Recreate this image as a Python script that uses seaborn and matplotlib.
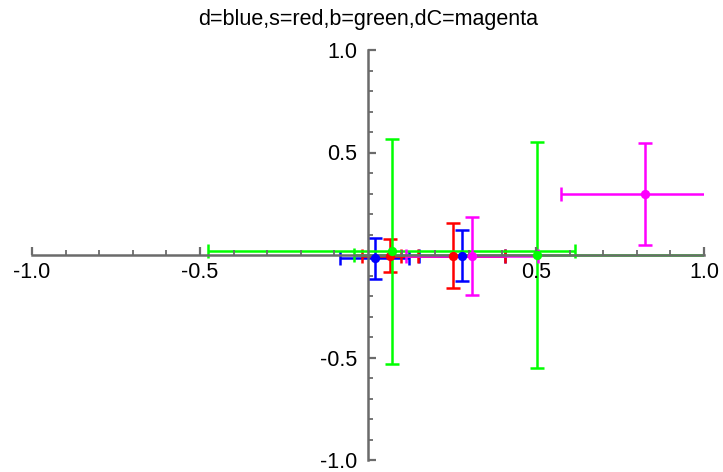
import numpy as np
import pandas as pd
import matplotlib
matplotlib.use("Agg")
import matplotlib.pyplot as plt
import seaborn as sns
from matplotlib.ticker import FixedLocator, FormatStrFormatter

sns.set_theme(style="white")
plt.rcParams['font.family'] = ['Liberation Sans', 'DejaVu Sans']

# ---- data ----
d_x = [0.020, 0.280]
d_y = [-0.015, -0.003]
d_xerr = [0.102, 0.128]
d_yerr = [0.100, 0.125]

s_x = [0.066, 0.253]
s_y = [-0.003, -0.003]
s_xerr = [0.083, 0.155]
s_yerr = [0.080, 0.157]

b_x = [0.070, 0.502]
b_y = [0.018, 0.000]
b_xerr = [0.545, 0.545]
b_yerr = [0.548, 0.550]

dc_x = [0.824, 0.309]
dc_y = [0.296, -0.003]
dc_xerr = [0.250, 0.197]
dc_yerr = [0.248, 0.190]

title = "d=blue,s=red,b=green,dC=magenta"
major_ticks = [-1.0, -0.5, 0.5, 1.0]

series = [
    ("d", d_x, d_y, d_xerr, d_yerr, "#0000ff"),
    ("s", s_x, s_y, s_xerr, s_yerr, "#ff0000"),
    ("b", b_x, b_y, b_xerr, b_yerr, "#00ff00"),
    ("dC", dc_x, dc_y, dc_xerr, dc_yerr, "#ff00ff"),
]

frames = []
for name, x, y, xe, ye, c in series:
    frames.append(pd.DataFrame({"name": name, "x": x, "y": y, "xerr": xe, "yerr": ye}))
df = pd.concat(frames, ignore_index=True)

fig = plt.figure(figsize=(7.23, 4.72), dpi=100)
ax = fig.add_axes([32/723, 12/472, 672/723, 410/472])

for i, (name, *_rest, c) in enumerate(series):
    sub = df[df["name"] == name]
    ax.errorbar(sub["x"], sub["y"], xerr=sub["xerr"], yerr=sub["yerr"],
                fmt="none", ecolor=c, elinewidth=1.8, capsize=5, capthick=1.8,
                zorder=2 + 0.1 * i)
    sns.scatterplot(data=sub, x="x", y="y", color=c, s=45, edgecolor=c,
                    linewidth=0, ax=ax, zorder=6 + 0.1 * i, legend=False)

ax.set_xlim(-1, 1)
ax.set_ylim(-1, 1)
ax.set_xlabel("")
ax.set_ylabel("")

axis_color = "#6b6b6b"
for side in ["top", "right"]:
    ax.spines[side].set_visible(False)
ax.spines["left"].set_position(("data", 0))
ax.spines["bottom"].set_position(("data", 0))
for side in ["left", "bottom"]:
    ax.spines[side].set_color(axis_color)
    ax.spines[side].set_linewidth(1.8)
    ax.spines[side].set_zorder(5)
ax.set_axisbelow(False)

minor = [v / 10 for v in range(-10, 11) if v not in (-10, -5, 0, 5, 10)]
ax.xaxis.set_major_locator(FixedLocator(major_ticks))
ax.yaxis.set_major_locator(FixedLocator(major_ticks))
ax.xaxis.set_minor_locator(FixedLocator(minor))
ax.yaxis.set_minor_locator(FixedLocator(minor))
ax.xaxis.set_major_formatter(FormatStrFormatter("%.1f"))
ax.yaxis.set_major_formatter(FormatStrFormatter("%.1f"))

ax.tick_params(axis="both", which="major", direction="in", length=6, width=1.6,
               color=axis_color, labelsize=15.5, labelcolor="black")
ax.tick_params(axis="x", which="major", pad=5)
ax.tick_params(axis="y", which="major", pad=8)
ax.tick_params(axis="both", which="minor", direction="in", length=3.5, width=1.3,
               color=axis_color)
ax.tick_params(bottom=True, left=True, which="both")

ax.set_title(title, fontsize=15.5, pad=18, color="black")
ax.grid(False)

fig.savefig("out.png", dpi=100)
